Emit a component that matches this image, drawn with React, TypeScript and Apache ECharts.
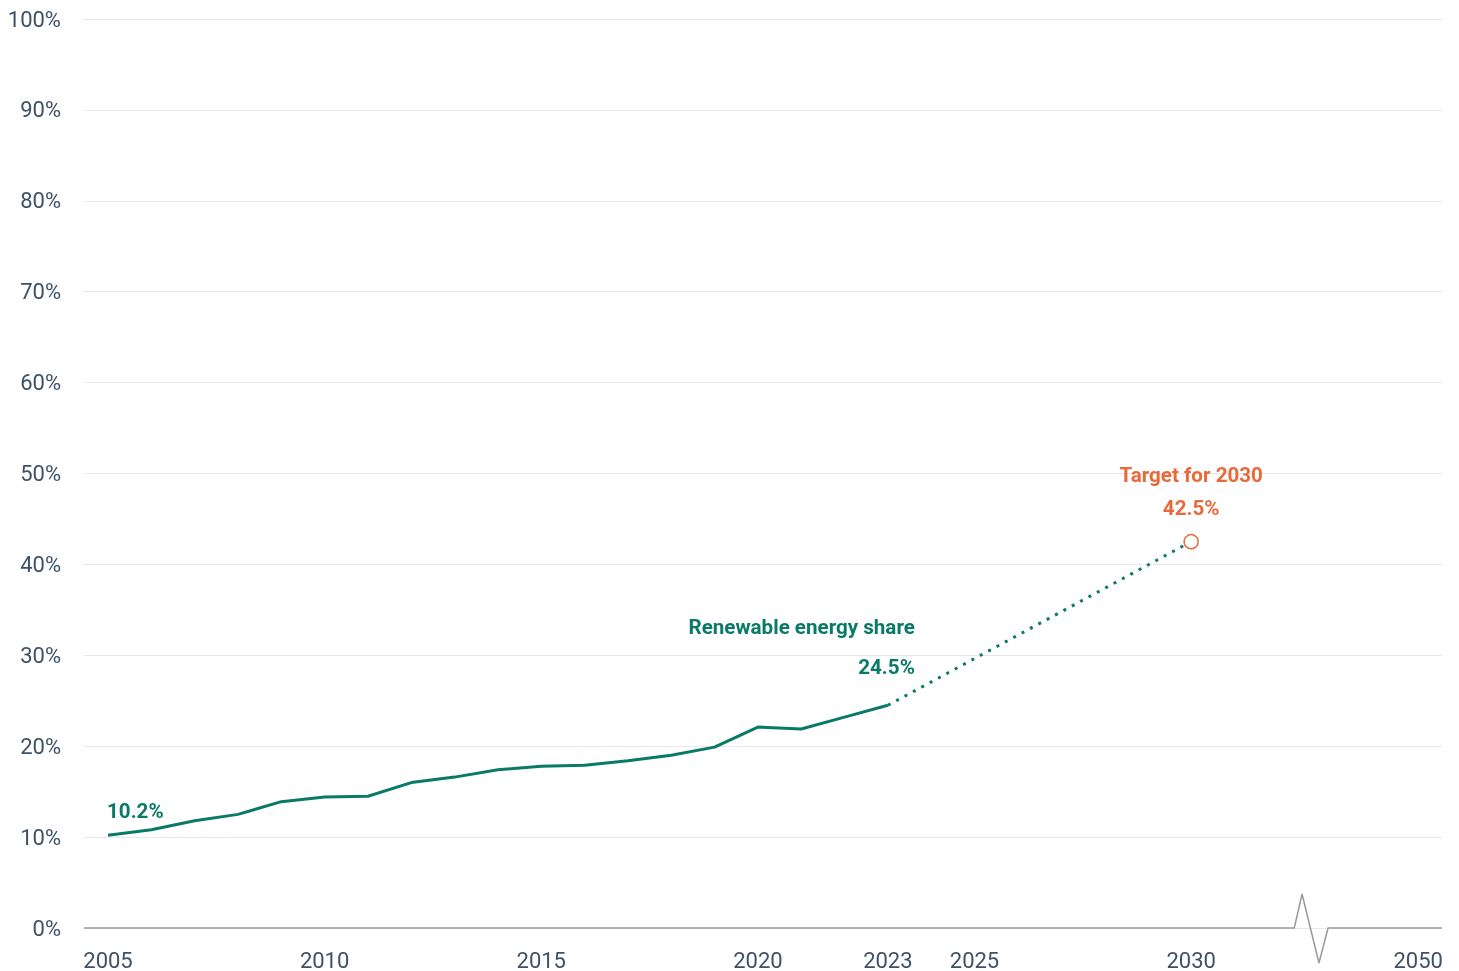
import React, { useEffect, useRef } from "react";
import * as echarts from "echarts";

const years = [2005, 2006, 2007, 2008, 2009, 2010, 2011, 2012, 2013, 2014, 2015, 2016, 2017, 2018, 2019, 2020, 2021, 2022, 2023];
const share = [10.2, 10.8, 11.8, 12.5, 13.9, 14.4, 14.5, 16.0, 16.6, 17.4, 17.8, 17.9, 18.4, 19.0, 19.9, 22.1, 21.9, 23.2, 24.5];
const projectionYears = [2023, 2030];
const projectionValues = [24.5, 42.5];
const targetYear = 2030;
const targetValue = 42.5;
const xTickValues = [2005, 2010, 2015, 2020, 2023, 2025, 2030];
const breakLabelText = "2050";
const breakLabelPos = 2035.24;
const xMin = 2004.446;
const xMax = 2035.79;
const breakPoints = [2032.38, 2032.56, 2032.95, 2033.16];

const TEAL = "#0a7a68";
const ORANGE = "#e86a3a";
const AXIS_TEXT = "#3e5267";
const LABEL_SIZE = 20.6;

export default function App() {
  const ref = useRef<HTMLDivElement>(null);
  useEffect(() => {
    if (!ref.current) return;
    const chart = echarts.init(ref.current, undefined, { renderer: "svg" });
    const option: any = {
      animation: false,
      grid: { left: 84, right: 17, top: 19, bottom: 43, containLabel: false },
      textStyle: { fontFamily: "Roboto" },
      xAxis: {
        type: "value",
        min: xMin,
        max: xMax,
        axisLine: { show: false },
        axisTick: { show: false },
        splitLine: { show: false },
        axisLabel: {
          customValues: [...xTickValues, breakLabelPos],
          formatter: (v: number) => (Math.abs(v - breakLabelPos) < 0.01 ? breakLabelText : String(Math.round(v))),
          color: AXIS_TEXT,
          fontSize: 22,
          fontFamily: "Roboto",
          margin: 21,
        },
      },
      yAxis: {
        type: "value",
        min: 0,
        max: 100,
        interval: 10,
        axisLine: { show: false },
        axisTick: { show: false },
        splitLine: { lineStyle: { color: "#e8e8e8", width: 1 } },
        axisLabel: {
          formatter: "{value}%",
          color: AXIS_TEXT,
          fontSize: 22,
          fontFamily: "Roboto",
          margin: 23,
        },
      },
      series: [
        {
          type: "line",
          data: years.map((y, i) => [y, share[i]]),
          symbol: "none",
          lineStyle: { color: TEAL, width: 3 },
          z: 3,
        },
        {
          type: "line",
          data: projectionYears.map((y, i) => [y, projectionValues[i]]),
          symbol: "none",
          lineStyle: { color: TEAL, width: 3, type: [3, 6.5] },
          z: 3,
        },
        {
          type: "scatter",
          data: [[targetYear, targetValue]],
          symbol: "circle",
          symbolSize: 14,
          itemStyle: { color: "#ffffff", borderColor: ORANGE, borderWidth: 1.5, opacity: 1 },
          z: 5,
          label: {
            show: true,
            position: "top",
            align: "center",
            verticalAlign: "bottom",
            offset: [0, -4],
            opacity: 1,
            formatter: () => "{a|Target for 2030}\n{a|" + targetValue + "%}",
            rich: {
              a: { color: ORANGE, fontSize: LABEL_SIZE, fontWeight: "bold", fontFamily: "Roboto", lineHeight: 33, align: "center" },
            },
          },
        },
        {
          type: "scatter",
          symbolSize: 0,
          silent: true,
          itemStyle: { opacity: 1 },
          data: [
            {
              value: [years[0], share[0]],
              label: {
                show: true,
                position: "top",
                align: "left",
                verticalAlign: "middle",
                offset: [-1, -19],
                opacity: 1,
                formatter: share[0] + "%",
                color: TEAL,
                fontSize: LABEL_SIZE,
                fontWeight: "bold",
                fontFamily: "Roboto",
              },
            },
            {
              value: [years[years.length - 1], share[share.length - 1]],
              label: {
                show: true,
                position: "top",
                align: "right",
                verticalAlign: "bottom",
                offset: [27, -13],
                opacity: 1,
                formatter: "{a|Renewable energy share}\n{a|" + share[share.length - 1] + "%}",
                rich: {
                  a: { color: TEAL, fontSize: LABEL_SIZE, fontWeight: "bold", fontFamily: "Roboto", lineHeight: 40, align: "right" },
                },
              },
            },
          ],
        },
      ],
    };
    chart.setOption(option);

    const p = (x: number) => chart.convertToPixel({ gridIndex: 0 }, [x, 0]) as number[];
    const a = p(xMin);
    const b = p(breakPoints[0]);
    const c = p(breakPoints[1]);
    const d = p(breakPoints[2]);
    const e = p(breakPoints[3]);
    const f = p(xMax);
    chart.setOption({
      graphic: [
        {
          type: "polyline",
          silent: true,
          z: 2,
          shape: {
            points: [
              [a[0], a[1]],
              [b[0], b[1]],
              [c[0], c[1] - 34],
              [d[0], d[1] + 35],
              [e[0], e[1]],
              [f[0], f[1]],
            ],
          },
          style: { stroke: "#9a9a9a", lineWidth: 1.5, fill: null },
        },
      ],
    });

    return () => chart.dispose();
  }, []);
  return <div ref={ref} style={{ position: "fixed", left: 0, top: 0, width: 1459, height: 971 }} />;
}
